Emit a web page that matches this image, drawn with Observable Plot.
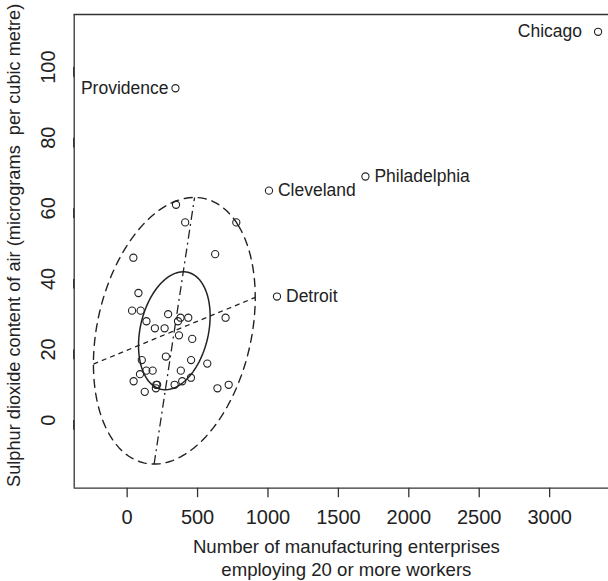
<!DOCTYPE html>
<html>
<head>
<meta charset="utf-8">
<script src="https://cdn.jsdelivr.net/npm/d3@7"></script>
<script src="https://cdn.jsdelivr.net/npm/@observablehq/plot@0.6"></script>
<style>
  html, body { margin: 0; padding: 0; background: #fff; }
  #chart svg { display: block; }
</style>
</head>
<body>
<div id="chart"></div>
<script>
// US cities: manufacturing enterprises (20+ workers) and SO2 concentration
const cities = ["Albany","Albuquerque","Atlanta","Baltimore","Buffalo","Charleston","Chicago","Cincinnati","Cleveland","Columbus","Dallas","Denver","Des Moines","Detroit","Hartford","Houston","Indianapolis","Jacksonville","Kansas City","Little Rock","Louisville","Memphis","Miami","Milwaukee","Minneapolis","Nashville","New Orleans","Norfolk","Omaha","Philadelphia","Phoenix","Pittsburgh","Providence","Richmond","Salt Lake City","San Francisco","Seattle","St. Louis","Washington","Wichita","Wilmington"];
const manufacturing = [44,46,368,625,391,35,3344,462,1007,266,641,454,104,1064,412,721,361,136,381,91,291,337,207,569,699,275,204,96,181,1692,213,347,343,197,137,453,379,775,434,125,80];
const sulphurDioxide = [46,11,24,47,11,31,110,23,65,26,9,17,17,35,56,10,28,14,14,13,30,10,10,16,29,18,9,31,14,69,10,61,94,26,28,12,29,56,29,8,36];

// Outlying cities named on the plot, and the side their label sits on
const labelledLeft = ["Chicago", "Providence"];
const labelledRight = ["Philadelphia", "Cleveland", "Detroit"];

// Robust bivariate summary (location, scale, correlation) and the
// hinge / fence radii of the bivariate boxplot
const centre = [335, 25.3];
const scale = [216, 14.2];
const correlation = 0.25;
const hingeRadius = 1.177;
const fenceRadius = 2.66;

// Axis ticks and titles
const xTicks = [0, 500, 1000, 1500, 2000, 2500, 3000];
const yTicks = [0, 20, 40, 60, 80, 100];
const xDomain = [-376, 3418];
const yDomain = [-19.3, 114.9];
const xTitle = "Number of manufacturing enterprises\nemploying 20 or more workers";
const yTitle = "Sulphur dioxide content of air (micrograms\u00a0\u00a0per cubic metre)";

const points = cities.map((city, i) => ({city, x: manufacturing[i], y: sulphurDioxide[i]}));

// Ellipse traced as in the bivariate boxplot construction (every 3 degrees)
function ellipse(radius) {
  const [m1, m2] = centre, [s1, s2] = scale, r = correlation;
  const r1 = radius * Math.sqrt((1 + r) / 2);
  const r2 = radius * Math.sqrt((1 - r) / 2);
  return d3.range(0, 361, 3).map(deg => {
    const t = deg * Math.PI / 180;
    return {
      x: m1 + (r1 * Math.cos(t) + r2 * Math.sin(t)) * s1,
      y: m2 + (r1 * Math.cos(t) - r2 * Math.sin(t)) * s2
    };
  });
}
const hinge = ellipse(hingeRadius);
const fence = ellipse(fenceRadius);

// Regression lines of y on x and x on y, spanning the fence
const [m1, m2] = centre, [s1, s2] = scale;
const bYX = correlation * s2 / s1;
const bXY = correlation * s1 / s2;
const fx = d3.extent(fence, d => d.x);
const fy = d3.extent(fence, d => d.y);
const regressionYX = [{x1: fx[0], y1: m2 + bYX * (fx[0] - m1), x2: fx[1], y2: m2 + bYX * (fx[1] - m1)}];
const regressionXY = [{x1: m1 + bXY * (fy[0] - m2), y1: fy[0], x2: m1 + bXY * (fy[1] - m2), y2: fy[1]}];

const ink = "#222";
const font = "'Liberation Sans', Arial, Helvetica, sans-serif";
const plain = d => String(d);
const labelStyle = {x: "x", y: "y", text: "city", fontSize: 17.5, fill: ink};
const only = name => points.filter(d => d.city === name);

const chart = Plot.plot({
  width: 608,
  height: 581,
  marginLeft: 73.7,
  marginRight: 0,
  marginTop: 14,
  marginBottom: 93.3,
  style: {fontFamily: font, color: ink, background: "#fff", overflow: "hidden"},
  x: {domain: xDomain},
  y: {domain: yDomain},
  marks: [
    // plot box (left, top, bottom)
    Plot.ruleX([xDomain[0]], {stroke: "#333", strokeWidth: 1.3}),
    Plot.ruleY(yDomain, {stroke: "#333", strokeWidth: 1.3}),
    Plot.axisX(xTicks, {tickSize: 9.5, tickPadding: 12, tickFormat: plain, fontSize: 20, label: null, stroke: "#333", strokeWidth: 1.3}),
    Plot.axisY(yTicks, {tickSize: 9.7, tickPadding: 9, tickFormat: plain, fontSize: 20, label: null, rotate: -90, textAnchor: "middle", lineAnchor: "bottom", stroke: "#333", strokeWidth: 1.3}),
    // bivariate boxplot: hinge, fence and regression lines
    Plot.line(hinge, {x: "x", y: "y", stroke: ink, strokeWidth: 1.5}),
    Plot.line(fence, {x: "x", y: "y", stroke: ink, strokeWidth: 1.4, strokeDasharray: "8,6"}),
    Plot.link(regressionYX, {x1: "x1", y1: "y1", x2: "x2", y2: "y2", stroke: ink, strokeWidth: 1.3, strokeDasharray: "5,4"}),
    Plot.link(regressionXY, {x1: "x1", y1: "y1", x2: "x2", y2: "y2", stroke: ink, strokeWidth: 1.3, strokeDasharray: "9,4,2,4"}),
    // cities
    Plot.dot(points, {x: "x", y: "y", r: 3.6, stroke: ink, strokeWidth: 1.1, fill: "none"}),
    Plot.text(only(labelledLeft[0]), {...labelStyle, textAnchor: "end", dx: -16}),
    Plot.text(only(labelledLeft[1]), {...labelStyle, textAnchor: "end", dx: -7}),
    Plot.text(points.filter(d => labelledRight.includes(d.city)), {...labelStyle, textAnchor: "start", dx: 9}),
    // axis titles
    Plot.text([xTitle], {text: d => d, frameAnchor: "bottom", textAnchor: "middle", lineAnchor: "top", dy: 48, dx: 5, fontSize: 18.6, lineHeight: 1.24, fill: ink}),
    Plot.text([yTitle], {text: d => d, frameAnchor: "left", textAnchor: "middle", rotate: -90, dx: -59.7, dy: -6, fontSize: 18.2, fill: ink})
  ]
});

document.getElementById("chart").appendChild(chart);
</script>
</body>
</html>
